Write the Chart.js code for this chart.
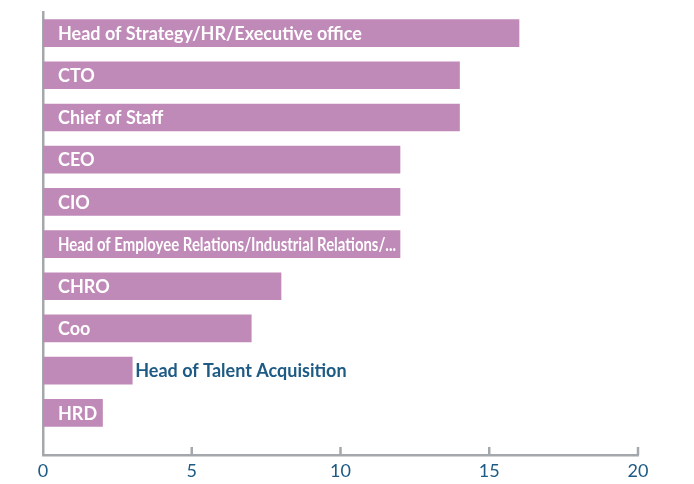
<!DOCTYPE html>
<html>
<head>
<meta charset="utf-8">
<script src="https://cdn.jsdelivr.net/npm/chart.js@4"></script>
<style>
  html, body { margin: 0; padding: 0; background: #ffffff; }
  #wrap { width: 694px; height: 484px; }
</style>
</head>
<body>
<div id="wrap"><canvas id="roles"></canvas></div>
<script>
/* --------------- Data --------------------- */
const roles = [
  "Head of Strategy/HR/Executive office",
  "CTO",
  "Chief of Staff",
  "CEO",
  "CIO",
  "Head of Employee Relations/Industrial Relations/...",
  "CHRO",
  "Coo",
  "Head of Talent Acquisition",
  "HRD",
];
const counts = [16, 14, 14, 12, 12, 12, 8, 7, 3, 2];
const labelInside = [true, true, true, true, true, true, true, true, false, true];
const xTicks = [0, 5, 10, 15, 20];

/* --------------- Styles --------------------- */
const barColor = "#c08ab8";
const axisColor = "#a4a8ac";
const blueText = "#1d5a84";

/* --------------- Labels on the bars --------------------- */
const barLabels = {
  id: "barLabels",
  afterDatasetsDraw(chart) {
    const ctx = chart.ctx;
    const meta = chart.getDatasetMeta(0);
    ctx.save();
    ctx.font = "bold 18px Lato";
    ctx.textBaseline = "middle";
    ctx.textAlign = "left";
    meta.data.forEach((bar, i) => {
      const name = roles[i];
      if (labelInside[i]) {
        const x = bar.base + 15;
        const room = bar.x - x - 4;
        const w = ctx.measureText(name).width;
        ctx.fillStyle = "#ffffff";
        if (w > room) {
          ctx.save();
          ctx.translate(x, bar.y + 1);
          ctx.scale(room / w, 1);
          ctx.fillText(name, 0, 0);
          ctx.restore();
        } else {
          ctx.fillText(name, x, bar.y + 1);
        }
      } else {
        ctx.fillStyle = blueText;
        ctx.fillText(name, bar.x + 3, bar.y + 1);
      }
    });
    ctx.restore();
  },
};

/* --------------- Tick marks pointing up from the axis --------------------- */
const upTicks = {
  id: "upTicks",
  afterDraw(chart) {
    const ctx = chart.ctx;
    const xs = chart.scales.x;
    const bottom = chart.chartArea.bottom;
    ctx.save();
    ctx.strokeStyle = axisColor;
    ctx.lineWidth = 2.5;
    xTicks.slice(1).forEach((v) => {
      const px = xs.getPixelForValue(v);
      ctx.beginPath();
      ctx.moveTo(px, bottom);
      ctx.lineTo(px, bottom - 8);
      ctx.stroke();
    });
    ctx.restore();
  },
};

/* --------------- Chart --------------------- */
new Chart(document.getElementById("roles"), {
  type: "bar",
  plugins: [barLabels, upTicks],
  data: {
    datasets: [
      {
        data: counts.map((v, i) => ({ x: v, y: i })),
        backgroundColor: barColor,
        barThickness: 27,
      },
    ],
  },
  options: {
    indexAxis: "y",
    responsive: true,
    maintainAspectRatio: false,
    animation: false,
    layout: { padding: { top: 12, right: 56, left: 0, bottom: 0 } },
    plugins: {
      legend: { display: false },
      tooltip: { enabled: false },
    },
    scales: {
      x: {
        type: "linear",
        min: 0,
        max: 20,
        afterBuildTicks: (scale) => {
          scale.ticks = xTicks.map((v) => ({ value: v }));
        },
        grid: { display: false, drawTicks: false },
        border: { display: true, color: axisColor, width: 2.5 },
        ticks: {
          color: blueText,
          font: { family: "Lato", size: 18 },
          padding: 5,
        },
        afterFit: (scale) => {
          scale.height = 29;
        },
      },
      y: {
        type: "linear",
        reverse: true,
        offset: false,
        min: -0.5,
        max: 10,
        grid: { display: false, drawTicks: false, offset: false },
        border: { display: true, color: axisColor, width: 2.5 },
        ticks: { display: false },
        afterFit: (scale) => {
          scale.width = 43;
        },
      },
    },
  },
});
</script>
</body>
</html>
